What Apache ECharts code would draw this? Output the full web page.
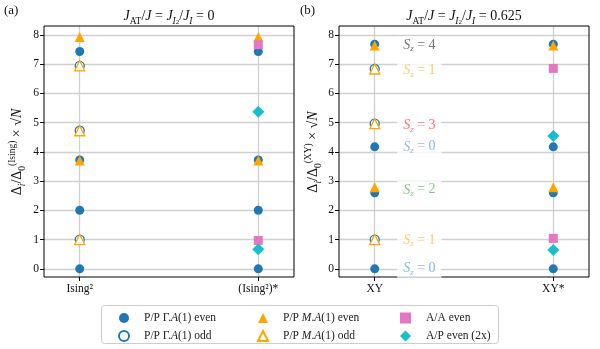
<!DOCTYPE html>
<html><head><meta charset="utf-8">
<script src="https://cdn.jsdelivr.net/npm/echarts@6/dist/echarts.min.js"></script>
<style>html,body{margin:0;padding:0;background:#fff}#c{width:600px;height:349px}</style>
</head><body><div id="c"></div>
<script>
// ---- data ----
const leftCats = ['Ising²', '(Ising²)*'];
const rightCats = ['XY', 'XY*'];
const yTicks = [0, 1, 2, 3, 4, 5, 6, 7, 8];
// values per category [cat0 values, cat1 values]
const L_gammaEven = [[0, 2, 3.72, 7.43], [0, 2, 3.72, 7.43]];
const L_gammaOdd  = [[1, 4.72, 6.94], []];
const L_mEven     = [[3.70, 7.92], [3.70, 7.92]];
const L_mOdd      = [[1, 4.72, 6.94], []];
const L_aa        = [[], [0.97, 7.66]];
const L_ap        = [[], [0.67, 5.37]];

const R_gammaEven = [[0, 2.60, 4.17, 7.68], [0, 2.60, 4.17, 7.68]];
const R_gammaOdd  = [[1, 4.96, 6.83], []];
const R_mEven     = [[2.79, 7.63], [2.79, 7.63]];
const R_mOdd      = [[1, 4.96, 6.83], []];
const R_aa        = [[], [1.04, 6.85]];
const R_ap        = [[], [0.64, 4.54]];

// S_z annotations (right panel)
const szText  = ['4', '1', '3', '0', '2', '1', '0'];
const szY     = [7.63, 6.77, 4.89, 4.17, 2.70, 0.98, 0.0];
const szColor = ['#555555', '#ffbb44', '#ff4f4f', '#6fa8dc', '#66bb66', '#ffbb44', '#6fa8dc'];
const szX = 0.25;

const seriesNames = ['P/P Γ.A(1) even', 'P/P Γ.A(1) odd', 'P/P M.A(1) even', 'P/P M.A(1) odd', 'A/A even', 'A/P even (2x)'];

// ---- styling ----
const BLUE = '#1f77b4', ORANGE = '#ffa500', PINK = '#e377c2', CYAN = '#17becf';
const SERIF = 'Liberation Serif';
const styles = [
  {symbol: 'circle', symbolSize: 9, itemStyle: {color: BLUE, opacity: 1}},
  {symbol: 'circle', symbolSize: 9, itemStyle: {color: '#fff', borderColor: BLUE, borderWidth: 1.3, opacity: 1}},
  {symbol: 'triangle', symbolSize: 10, itemStyle: {color: ORANGE, opacity: 1}},
  {symbol: 'triangle', symbolSize: 10, itemStyle: {color: '#fff', borderColor: ORANGE, borderWidth: 1.3, opacity: 1}},
  {symbol: 'rect', symbolSize: 9, itemStyle: {color: PINK, opacity: 1}},
  {symbol: 'diamond', symbolSize: 12, itemStyle: {color: CYAN, opacity: 1}}
];

function toPts(arr) {
  const out = [];
  arr.forEach((vals, ci) => vals.forEach(v => out.push([ci, v])));
  return out;
}
const leftData = [L_gammaEven, L_gammaOdd, L_mEven, L_mOdd, L_aa, L_ap];
const rightData = [R_gammaEven, R_gammaOdd, R_mEven, R_mOdd, R_aa, R_ap];

const series = [];
[leftData, rightData].forEach((panel, gi) => {
  panel.forEach((arr, si) => {
    series.push(Object.assign({
      type: 'scatter', name: seriesNames[si], xAxisIndex: gi, yAxisIndex: gi,
      data: toPts(arr), z: 3 + si, emphasis: {disabled: true}
    }, JSON.parse(JSON.stringify(styles[si]))));
  });
});
series.push({
  type: 'scatter', xAxisIndex: 1, yAxisIndex: 1, symbolSize: 0, z: 20,
  data: szY.map((y, i) => ({
    value: [szX, y],
    label: {color: szColor[i], formatter: '{s|S}{z|z}{e| = ' + szText[i] + '}'}
  })),
  label: {
    show: true, position: 'inside', backgroundColor: '#fff', padding: [1, 6, 1, 6],
    fontFamily: SERIF,
    rich: {
      s: {fontFamily: SERIF, fontStyle: 'italic', fontSize: 14, lineHeight: 16},
      z: {fontFamily: SERIF, fontStyle: 'italic', fontSize: 9, lineHeight: 9, verticalAlign: 'bottom'},
      e: {fontFamily: SERIF, fontSize: 14, lineHeight: 16}
    }
  },
  emphasis: {disabled: true}, silent: true
});

function xAxis(gi, cats) {
  return {
    type: 'value', gridIndex: gi, min: -0.2, max: 1.2,
    axisLine: {show: false, onZero: false},
    axisTick: {show: true, customValues: [0, 1], length: 4, lineStyle: {color: '#000', width: 1}},
    axisLabel: {customValues: [0, 1], formatter: v => cats[Math.round(v)], color: '#111',
      fontFamily: SERIF, fontSize: 11.5, margin: 6},
    splitLine: {show: true, lineStyle: {color: '#d0d0d0', width: 1.3}}
  };
}
function yAxis(gi) {
  return {
    type: 'value', gridIndex: gi, min: -0.28, max: 8.3,
    axisLine: {show: false, onZero: false},
    axisTick: {show: true, customValues: yTicks, length: 4, lineStyle: {color: '#000', width: 1}},
    axisLabel: {customValues: yTicks, color: '#111', fontFamily: SERIF, fontSize: 11.5, margin: 5},
    splitLine: {show: true, lineStyle: {color: '#d0d0d0', width: 1.3}}
  };
}

const richMath = {
  r: {fontFamily: SERIF, fontSize: 14, lineHeight: 20},
  i: {fontFamily: SERIF, fontStyle: 'italic', fontSize: 14, lineHeight: 20},
  sub: {fontFamily: SERIF, fontSize: 9.5, lineHeight: 13, verticalAlign: 'bottom'},
  subi: {fontFamily: SERIF, fontStyle: 'italic', fontSize: 9.5, lineHeight: 13, verticalAlign: 'bottom'},
  subsub: {fontFamily: SERIF, fontSize: 7, lineHeight: 9, verticalAlign: 'bottom'},
  sup: {fontFamily: SERIF, fontSize: 9.5, lineHeight: 13, verticalAlign: 'top'}
};
function title(val) {
  return '{i|J}{sub|AT}{r|/}{i|J}{r| = }{i|J}{subi|I}{subsub|2}{r|/}{i|J}{subi|I}{r| = ' + val + '}';
}
function ylabel(sup) {
  return '{r|Δ}{subi|i}{r|/Δ}{sub|0}{sup|(' + sup + ')}{r| × √}{i|N}';
}

const legendRich = {
  sp: {width: 10},
  r: {fontFamily: SERIF, fontSize: 11.5, color: '#222'},
  i: {fontFamily: SERIF, fontSize: 11.5, fontStyle: 'italic', color: '#222'}
};
function legendFmt(name) {
  if (name.indexOf('M.') >= 0) return '{sp|}{r|P/P }{i|M}{r|.}{i|A}{r|(1) ' + name.split(' ').pop() + '}';
  if (name.indexOf('Γ.') >= 0) return '{sp|}{r|P/P Γ.}{i|A}{r|(1) ' + name.split(' ').pop() + '}';
  return '{sp|}{r|' + name + '}';
}
const legendIcons = ['circle', 'circle', 'triangle', 'triangle', 'rect', 'diamond'];
function legend(left, idx, size) {
  return {
    orient: 'vertical', left: left, top: 306, itemWidth: size, itemHeight: size, itemGap: 4,
    data: idx.map(k => ({name: seriesNames[k], icon: legendIcons[k]})), formatter: legendFmt, selectedMode: false,
    textStyle: {fontFamily: SERIF, fontSize: 11.5, lineHeight: 14, rich: legendRich}
  };
}

const option = {
  animation: false,
  backgroundColor: '#fff',
  grid: [
    {left: 44, top: 26, width: 250, height: 251, show: true, borderColor: '#000', borderWidth: 1, backgroundColor: 'transparent', z: 10},
    {left: 339, top: 26, width: 250, height: 251, show: true, borderColor: '#000', borderWidth: 1, backgroundColor: 'transparent', z: 10}
  ],
  xAxis: [xAxis(0, leftCats), xAxis(1, rightCats)],
  yAxis: [yAxis(0), yAxis(1)],
  legend: [
    legend(113, [0, 1], 10),
    legend(252, [2, 3], 10),
    legend(395, [4, 5], 11)
  ],
  series: series,
  graphic: [
    {type: 'rect', shape: {x: 101.5, y: 305.5, width: 397, height: 38, r: 3}, style: {fill: 'none', stroke: '#cccccc', lineWidth: 1}, z: -1},
    {type: 'text', x: 4, y: 4, style: {text: '(a)', font: '13px "Liberation Serif"', fill: '#111'}},
    {type: 'text', x: 300, y: 4, style: {text: '(b)', font: '13px "Liberation Serif"', fill: '#111'}},
    {type: 'text', x: 169, y: 16, style: {text: title('0'), rich: richMath, align: 'center', verticalAlign: 'middle', fill: '#111'}},
    {type: 'text', x: 464, y: 16, style: {text: title('0.625'), rich: richMath, align: 'center', verticalAlign: 'middle', fill: '#111'}},
    {type: 'text', x: 17, y: 152, rotation: Math.PI / 2, style: {text: ylabel('Ising'), rich: richMath, align: 'center', verticalAlign: 'middle', fill: '#111'}},
    {type: 'text', x: 313, y: 152, rotation: Math.PI / 2, style: {text: ylabel('XY'), rich: richMath, align: 'center', verticalAlign: 'middle', fill: '#111'}}
  ]
};
const chart = echarts.init(document.getElementById('c'), null, {renderer: 'canvas'});
chart.setOption(option);
</script></body></html>
